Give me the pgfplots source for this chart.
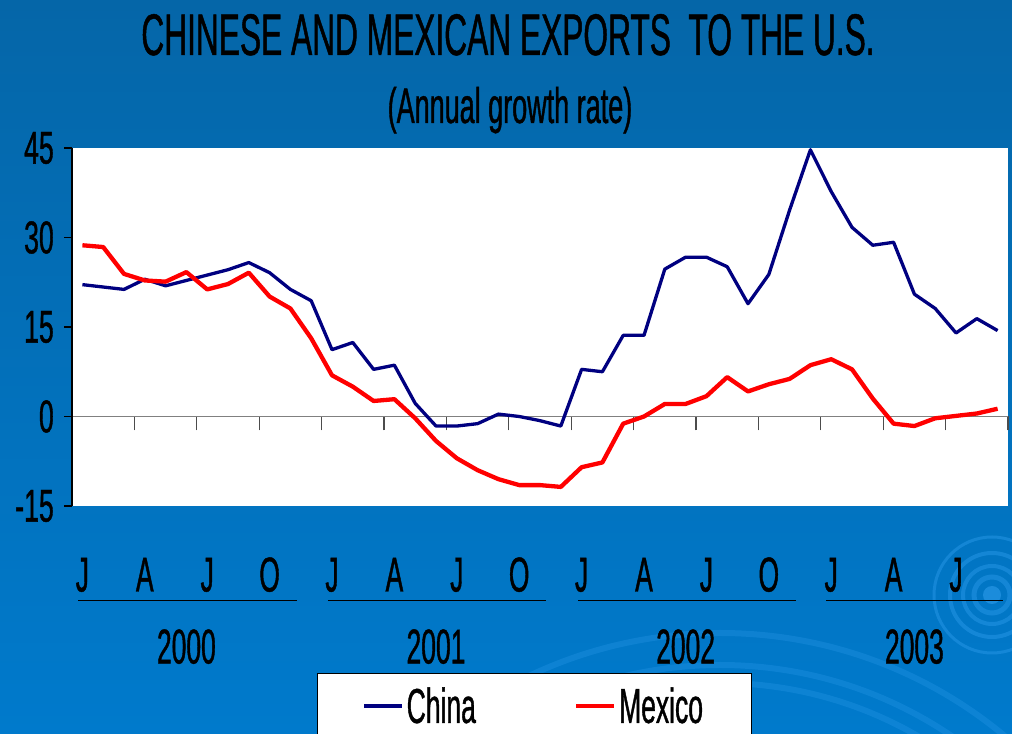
\documentclass[border=0pt]{standalone}
\usepackage{fontspec}
\setmainfont[FakeStretch=0.54, FakeBold=0.8]{Liberation Sans}
\newfontfamily\tickfont[FakeStretch=0.58, FakeBold=0.8]{Liberation Sans}
\usepackage{pgfplots}
\pgfplotsset{compat=1.18}
\usepackage{pgfplotstable}
\definecolor{bgtop}{RGB}{5,102,168}
\definecolor{bgbot}{RGB}{0,122,204}
\definecolor{ripple}{RGB}{45,155,235}
\definecolor{chinablue}{RGB}{0,0,128}
\definecolor{mexred}{RGB}{255,0,0}

\pgfplotstableread{
m china mexico
0 22.1 28.7
1 21.7 28.4
2 21.3 23.9
3 23.0 22.8
4 21.9 22.6
5 22.8 24.2
6 23.7 21.3
7 24.6 22.2
8 25.8 24.1
9 24.1 20.1
10 21.3 18.1
11 19.4 13.1
12 11.2 6.9
13 12.4 5.0
14 7.9 2.6
15 8.6 2.9
16 2.2 -0.3
17 -1.6 -4.1
18 -1.6 -7.0
19 -1.2 -9.0
20 0.4 -10.5
21 0.0 -11.5
22 -0.7 -11.5
23 -1.6 -11.8
24 7.9 -8.5
25 7.5 -7.7
26 13.6 -1.2
27 13.6 0.0
28 24.7 2.1
29 26.7 2.1
30 26.7 3.4
31 25.1 6.6
32 18.9 4.2
33 23.8 5.4
34 34.6 6.3
35 44.7 8.6
36 37.7 9.6
37 31.7 7.9
38 28.7 3.0
39 29.2 -1.2
40 20.5 -1.6
41 18.1 -0.3
42 14.0 0.1
43 16.4 0.5
44 14.4 1.3
}\datatable

\begin{document}
\begin{tikzpicture}[x=1bp,y=1bp]
\shade[top color=bgtop, bottom color=bgbot] (0,0) rectangle (1012,734);
\begin{scope}
\clip (0,0) rectangle (1012,734);
\fill[ripple, opacity=0.6] (992,139) circle (9bp);
\foreach \r/\w in {18/5,29/4,42/4,58/3}
  \draw[ripple, opacity=0.45, line width=\w bp] (992,139) circle (\r bp);
\foreach \r in {395,413,445}
  \draw[ripple, opacity=0.3, line width=6bp] (720,-344) circle (\r bp);
\end{scope}

\node[anchor=base, font=\fontsize{58.7bp}{60bp}\selectfont] at (508,679) {CHINESE AND MEXICAN EXPORTS\ \ TO THE U.S.};
\node[anchor=base, font=\fontsize{50bp}{52bp}\selectfont] at (510,611) {(Annual growth rate)};

\begin{axis}[
  at={(72bp,228bp)}, anchor=south west,
  scale only axis, width=936bp, height=358bp,
  xmin=-0.5, xmax=44.5, ymin=-15, ymax=45,
  axis background/.style={fill=white},
  axis x line=middle, axis y line=left,
  axis line style={-},
  x axis line style={color=gray, line width=1.5bp},
  y axis line style={color=black, line width=1.3bp},
  hide obscured x ticks=false, hide obscured y ticks=false,
  xtick={0,3,...,42},
  xticklabels={J,A,J,O,J,A,J,O,J,A,J,O,J,A,J},
  minor xtick={-0.5,2.5,...,44.5},
  ytick={-15,0,15,30,45},
  tick align=outside,
  major tick length=8bp, minor tick length=14bp,
  major x tick style={draw=none},
  minor x tick style={color=black!70, line width=1.3bp},
  y tick style={color=black, line width=1.3bp},
  /pgf/number format/assume math mode=true,
  xticklabel style={font=\fontsize{49bp}{50bp}\selectfont, anchor=base, inner sep=0bp, yshift=-167bp},
  yticklabel style={font=\tickfont\fontsize{46bp}{46bp}\selectfont, anchor=east, inner sep=0bp, xshift=-10bp},
  clip=false,
  legend columns=2,
  legend style={at={(axis description cs:0.2618,-0.4665)}, anchor=north west,
    draw=black, line width=0.8bp, fill=white,
    font=\fontsize{49bp}{50bp}\selectfont,
    inner xsep=45bp, inner ysep=14bp,
    /tikz/every even column/.append style={column sep=95bp},
    nodes={inner xsep=3bp, inner ysep=0bp}},
  legend cell align=left,
  legend image code/.code={\draw[#1] (0bp,0bp) -- (38bp,0bp);},
]
\addplot[chinablue, line width=3.3bp, line join=round] table[x=m, y=china] {\datatable};
\addlegendentry{China}
\addplot[mexred, line width=4.3bp, line join=round] table[x=m, y=mexico] {\datatable};
\addlegendentry{Mexico}

\foreach \a/\b/\c/\y in {-0.2/10.3/5/2000, 11.8/22.3/17/2001, 23.85/34.3/29/2002, 35.76/44.26/40/2003}{
  \edef\tmp{\noexpand\draw[black, line width=1.5bp] (axis cs:\a,-30.8) -- (axis cs:\b,-30.8);
  \noexpand\node[anchor=base, inner sep=0bp, font=\noexpand\fontsize{49bp}{50bp}\noexpand\selectfont] at (axis cs:\c,-41.4) {\y};}
  \tmp
}
\end{axis}
\pgfresetboundingbox
\path[use as bounding box] (0,0) rectangle (1012,734);
\end{tikzpicture}
\end{document}
